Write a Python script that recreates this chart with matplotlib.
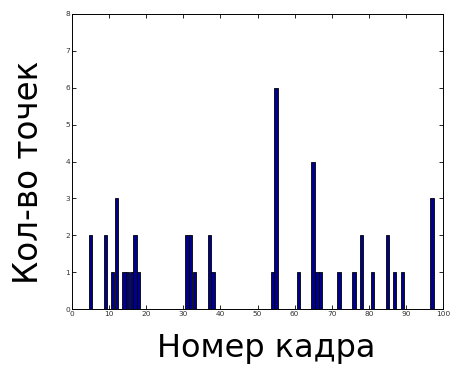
import numpy as np
import matplotlib.pyplot as plt

# номера кадров и количество точек в каждом
frames = [5, 9, 11, 12, 14, 15, 16, 17, 18, 31, 32, 33, 37, 38, 54, 55,
          61, 65, 66, 67, 72, 76, 78, 81, 85, 87, 89, 97]
counts = [2, 2, 1, 3, 1, 1, 1, 2, 1, 2, 2, 1, 2, 1, 1, 6,
          1, 4, 1, 1, 1, 1, 2, 1, 2, 1, 1, 3]

fig = plt.figure(figsize=(4.5, 3.66), dpi=100)
ax = fig.add_axes([72/450, 1 - 309/366, (443-72)/450, (309-14)/366])

ax.bar(frames, counts, width=0.9, color='#00008f', edgecolor='black', linewidth=0.6)

ax.set_xlim(0, 100)
ax.set_ylim(0, 8)
ax.set_xticks(np.arange(0, 101, 10))
ax.set_yticks(np.arange(0, 9, 1))
ax.tick_params(direction='in', top=True, right=True, labelsize=5.3,
               length=3, width=0.6, colors='black', labelcolor='#333333', pad=1.5)
for s in ax.spines.values():
    s.set_linewidth(0.7)

fig.text(157/450, 1 - 357/366, 'Номер кадра', fontsize=23, va='baseline', ha='left')
fig.text(38/450, 1 - 172.5/366, 'Кол-во точек', fontsize=23.5, rotation=90,
         rotation_mode='anchor', va='baseline', ha='center')

fig.savefig('out.png', dpi=100)
